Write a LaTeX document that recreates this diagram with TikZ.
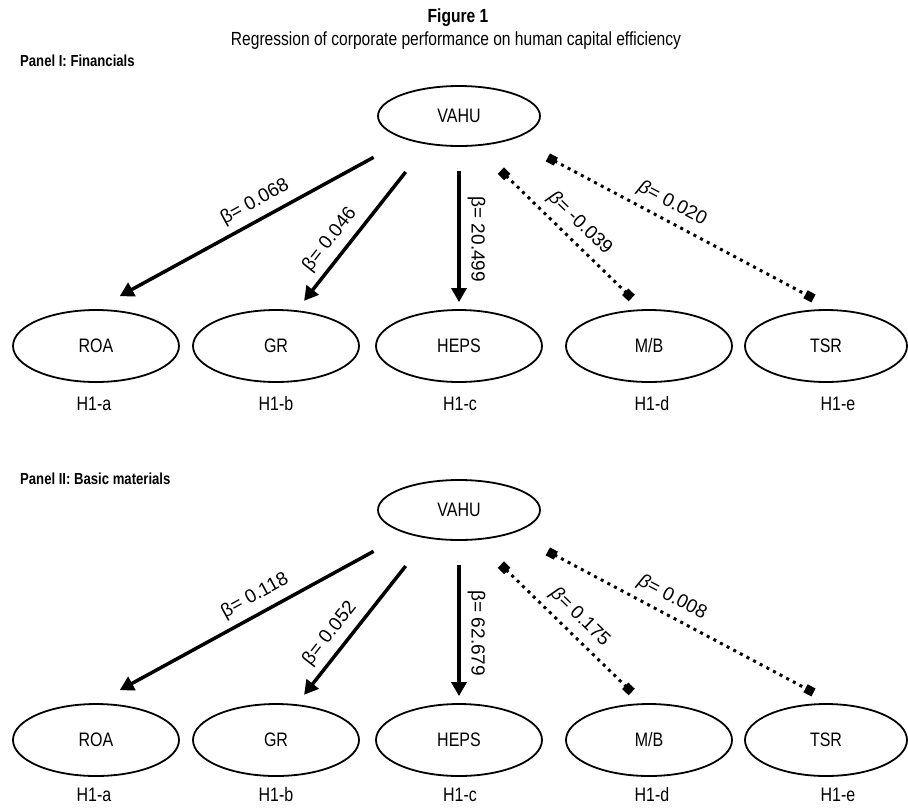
\documentclass[tikz,border=0pt]{standalone}
\usepackage{fontspec}
\setmainfont{Liberation Sans}[FakeStretch=0.82]
\newfontfamily\coeffont{Liberation Sans}
\usetikzlibrary{arrows.meta,shapes.geometric}

\tikzset{
    x={1pt},
    y={-1pt},
    figure title/.style={
        font={\bfseries\fontsize{19}{22}\selectfont},
    },
    figure subtitle/.style={
        font={\fontsize{19}{22}\selectfont},
    },
    panel title/.style={
        font={\bfseries\fontsize{16}{19}\selectfont},
        anchor=west,
        inner sep=0pt,
    },
    measure/.style={
        draw, ellipse,
        line width={1.8pt},
        minimum width={166},
        minimum height={72},
        inner sep=0pt,
        font={\fontsize{19.5}{22}\selectfont},
    },
    predictor/.style={
        measure,
        minimum width={162},
        minimum height={60},
    },
    hypothesis/.style={
        font={\fontsize{19.5}{22}\selectfont},
    },
    effect/.style={
        draw, line width={3.5pt},
        -{Triangle[length=14pt,width=15pt]},
    },
    weak effect/.style={
        draw, line width={3pt},
        dash pattern=on 3pt off 4.5pt,
        {Square[length=9pt,width=9pt]}-{Square[length=9pt,width=9pt]},
    },
    coefficient/.style={
        sloped, above=5pt,
        inner sep=2pt,
        font={\coeffont\fontsize{19}{22}\selectfont},
    },
}

\begin{document}
\begin{tikzpicture}
\useasboundingbox (0,0) rectangle (908,807);
% titles
\node[figure title] (fig) at (458,18) {Figure 1};
\node[figure subtitle] (sub) at (456,41) {Regression of corporate performance on human capital efficiency};
% panel I
\node[panel title] (panelA) at (20,61) {Panel I: Financials};
\node[predictor] (vahuA) at (459,116) {VAHU};
\node[measure] (roaA) at (96,346) {ROA};
\node[measure] (grA) at (276,346) {GR};
\node[measure] (hepsA) at (459,346) {HEPS};
\node[measure] (mbA) at (649,346) {M/B};
\node[measure, minimum width={162}] (tsrA) at (826,346) {TSR};
\node[hypothesis] (haA) at (94,404) {H1-a};
\node[hypothesis] (hbA) at (276,404) {H1-b};
\node[hypothesis] (hcA) at (460,404) {H1-c};
\node[hypothesis] (hdA) at (652,404) {H1-d};
\node[hypothesis] (heA) at (838,404) {H1-e};
\draw[effect, shorten <=37pt, shorten >=27pt] (vahuA.204) -- node[coefficient, pos=0.46] {β= 0.068} (roaA.north);
\draw[effect, shorten <=35pt, shorten >=12pt] (vahuA.222) -- node[coefficient, pos=0.64] {β= 0.046} (grA.60);
\draw[effect, shorten <=24pt, shorten >=7pt] (vahuA.south) -- node[coefficient, pos=0.57] {β= 20.499} (hepsA.north);
\draw[weak effect, shorten <=35pt, shorten >=16pt] (vahuA.-61) -- node[coefficient, pos=0.55] {\itshape β\upshape= -0.039} (mbA.99);
\draw[weak effect, shorten <=39pt, shorten >=23pt] (vahuA.-23) -- node[coefficient, pos=0.47] {\itshape β\upshape= 0.020} (tsrA.78);
% panel II
\node[panel title] (panelB) at (20,479) {Panel II: Basic materials};
\node[predictor] (vahuB) at (459,510) {VAHU};
\node[measure] (roaB) at (96,740) {ROA};
\node[measure] (grB) at (276,740) {GR};
\node[measure] (hepsB) at (459,740) {HEPS};
\node[measure] (mbB) at (649,740) {M/B};
\node[measure, minimum width={162}] (tsrB) at (826,740) {TSR};
\node[hypothesis] (haB) at (94,795) {H1-a};
\node[hypothesis] (hbB) at (276,795) {H1-b};
\node[hypothesis] (hcB) at (460,795) {H1-c};
\node[hypothesis] (hdB) at (652,795) {H1-d};
\node[hypothesis] (heB) at (838,795) {H1-e};
\draw[effect, shorten <=37pt, shorten >=27pt] (vahuB.204) -- node[coefficient, pos=0.46] {β= 0.118} (roaB.north);
\draw[effect, shorten <=35pt, shorten >=12pt] (vahuB.222) -- node[coefficient, pos=0.64] {β= 0.052} (grB.60);
\draw[effect, shorten <=24pt, shorten >=7pt] (vahuB.south) -- node[coefficient, pos=0.57] {β= 62.679} (hepsB.north);
\draw[weak effect, shorten <=35pt, shorten >=16pt] (vahuB.-61) -- node[coefficient, pos=0.55] {\itshape β\upshape= 0.175} (mbB.99);
\draw[weak effect, shorten <=39pt, shorten >=23pt] (vahuB.-23) -- node[coefficient, pos=0.47] {\itshape β\upshape= 0.008} (tsrB.78);
\end{tikzpicture}
\end{document}
